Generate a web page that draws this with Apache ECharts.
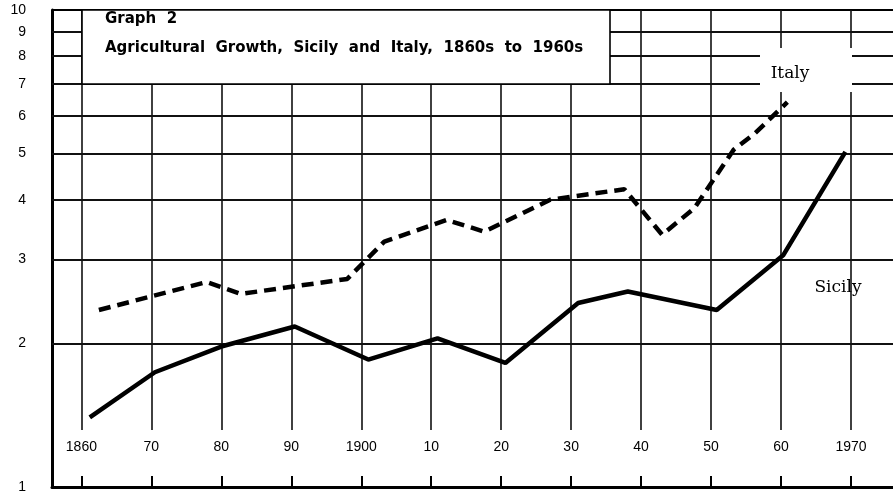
<!DOCTYPE html>
<html><head><meta charset="utf-8">
<script src="https://cdn.jsdelivr.net/npm/echarts@6/dist/echarts.min.js"></script>
<style>html,body{margin:0;padding:0;background:#fff}#c{width:893px;height:499px}</style>
</head><body><div id="c"></div>
<script>
// ---- data ----
const decadeTicks = [1860, 1870, 1880, 1890, 1900, 1910, 1920, 1930, 1940, 1950, 1960, 1970];
const decadeLabels = ['1860', '70', '80', '90', '1900', '10', '20', '30', '40', '50', '60', '1970'];
const yGridValues = [2, 3, 4, 5, 6, 7, 8, 9];

const sicilyYears  = [1861.2, 1870.5, 1880.0, 1890.5, 1901.0, 1910.9, 1920.6, 1931.0, 1938.1, 1950.8, 1960.3, 1969.2];
const sicilyValues = [1.40,   1.74,   1.97,   2.17,   1.85,   2.05,   1.82,   2.43,   2.57,   2.35,   3.06,   5.04];

const italyYears  = [1862.5, 1877.9, 1882.8, 1898.0, 1903.3, 1912.2, 1917.6, 1927.0, 1937.6, 1943.0, 1947.6, 1953.2, 1956.3, 1960.9];
const italyValues = [2.35,   2.69,   2.54,   2.73,   3.27,   3.63,   3.43,   4.00,   4.21,   3.38,   3.84,   5.09,   5.52,   6.41];

const titleLine1 = 'Graph  2';
const titleLine2 = 'Agricultural  Growth,  Sicily  and  Italy,  1860s  to  1960s';
const italyName = 'Italy';
const sicilyName = 'Sicily';

// ---- chart ----
const pair = (xs, ys) => xs.map((x, i) => [x, ys[i]]);
const chart = echarts.init(document.getElementById('c'), null, {renderer: 'canvas'});
const INK = '#000';
const FONT = '"Liberation Sans", Arial, sans-serif';

chart.setOption({
  animation: false,
  backgroundColor: '#fff',
  grid: [
    {left: 52, right: -18, top: 10, height: 477},
    {left: 52, right: -18, top: 10, height: 420}
  ],
  xAxis: [
    {
      type: 'value', gridIndex: 0, min: 1855.8, max: 1976,
      axisLine: {show: true, lineStyle: {color: INK, width: 3}},
      axisTick: {show: true, inside: true, length: 11, customValues: decadeTicks, lineStyle: {color: INK, width: 2}},
      axisLabel: {
        show: true, inside: true, margin: 33, customValues: decadeTicks,
        color: INK, fontSize: 14, fontFamily: FONT,
        formatter: v => decadeLabels[decadeTicks.indexOf(Math.round(v))]
      },
      splitLine: {show: false}
    },
    {
      type: 'value', gridIndex: 1, min: 1855.8, max: 1976,
      axisLine: {show: false},
      axisTick: {show: false, customValues: decadeTicks},
      axisLabel: {show: false},
      splitLine: {show: true, lineStyle: {color: '#111', width: 1.6}}
    }
  ],
  yAxis: [
    {
      type: 'log', logBase: 10, gridIndex: 0, min: 1, max: 10,
      axisLine: {show: true, lineStyle: {color: INK, width: 3}},
      axisTick: {show: false},
      axisLabel: {show: true, margin: 26, color: INK, fontSize: 14, fontFamily: FONT},
      splitLine: {show: true, lineStyle: {color: INK, width: 2}}
    },
    {
      type: 'value', gridIndex: 1, min: 0, max: 1, show: false,
      splitLine: {show: false}
    }
  ],
  series: [
    {
      name: sicilyName, type: 'line', xAxisIndex: 0, yAxisIndex: 0,
      data: pair(sicilyYears, sicilyValues),
      showSymbol: false, symbol: 'none',
      lineStyle: {color: INK, width: 4.5},
      z: 5,
      markLine: {
        silent: true, symbol: 'none', animation: false,
        lineStyle: {color: '#111', width: 1.8, type: 'solid'},
        label: {show: true, position: 'start', distance: 26, color: INK, fontSize: 14, fontFamily: FONT, formatter: p => String(p.value)},
        emphasis: {disabled: true},
        data: yGridValues.map(v => ({yAxis: v}))
      }
    },
    {
      name: italyName, type: 'line', xAxisIndex: 0, yAxisIndex: 0,
      data: pair(italyYears, italyValues),
      showSymbol: false, symbol: 'none',
      lineStyle: {color: INK, width: 4.5, type: [12, 7]},
      z: 5
    }
  ],
  graphic: [
    {type: 'rect', z: 100, shape: {x: 82, y: 10, width: 528, height: 74}, style: {fill: '#fff', stroke: INK, lineWidth: 1.6}},
    {type: 'text', z: 101, x: 105, y: 19, style: {text: titleLine1, font: 'bold 15px "DejaVu Sans"', fill: INK, verticalAlign: 'middle'}},
    {type: 'text', z: 101, x: 105, y: 48, style: {text: titleLine2, font: 'bold 15px "DejaVu Sans"', fill: INK, verticalAlign: 'middle'}},
    {type: 'rect', z: 100, shape: {x: 760, y: 48, width: 92, height: 44}, style: {fill: '#fff'}},
    {type: 'text', z: 101, x: 790, y: 74, style: {text: italyName, font: '17px "DejaVu Serif"', fill: INK, align: 'center', verticalAlign: 'middle'}},
    {type: 'text', z: 101, x: 838, y: 288, style: {text: sicilyName, font: '17px "DejaVu Serif"', fill: INK, align: 'center', verticalAlign: 'middle'}}
  ]
});
</script>
</body></html>
